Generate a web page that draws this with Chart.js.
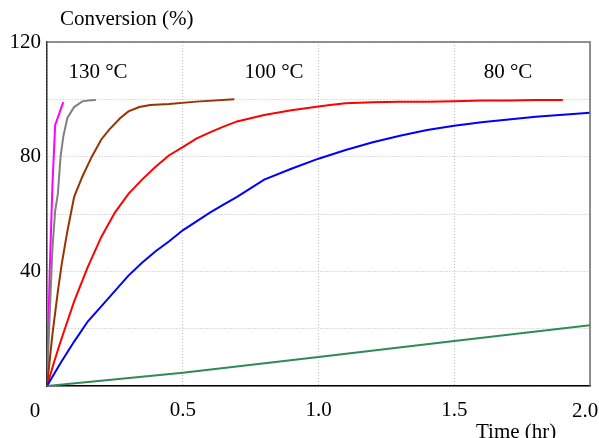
<!DOCTYPE html>
<html>
<head>
<meta charset="utf-8">
<script src="https://cdn.jsdelivr.net/npm/chart.js@4/dist/chart.umd.min.js"></script>
<style>
  html, body { margin: 0; padding: 0; background: #fff; }
  #wrap { position: relative; width: 599px; height: 438px; }
</style>
</head>
<body>
<div id="wrap"><canvas id="chart"></canvas></div>
<script>
// Conversion vs time.

const magentaTime = [0, 0.01, 0.02, 0.03, 0.045, 0.06];
const magentaConv = [0, 40, 70, 91, 95, 99];

const grayTime = [0, 0.01, 0.02, 0.03, 0.04, 0.05, 0.06, 0.075, 0.1, 0.13, 0.16, 0.18];
const grayConv = [0, 25, 48, 61, 67, 80, 87, 93.5, 97.3, 99.3, 99.7, 99.8];

const brownTime = [0, 0.02, 0.04, 0.055, 0.075, 0.1, 0.13, 0.165, 0.2, 0.23, 0.27, 0.3, 0.34, 0.38, 0.45, 0.55, 0.69];
const brownConv = [0, 18, 33, 43, 54, 66, 73, 80, 86, 89.5, 93.5, 95.8, 97.3, 98, 98.4, 99.2, 100];

const redTime = [0, 0.025, 0.05, 0.1, 0.15, 0.2, 0.25, 0.3, 0.35, 0.4, 0.45, 0.5, 0.55, 0.6, 0.65, 0.7, 0.8, 0.9, 1.0, 1.05, 1.1, 1.2, 1.3, 1.4, 1.5, 1.6, 1.7, 1.8, 1.9];
const redConv = [0, 8, 15.5, 29.5, 41.5, 52, 60.5, 67, 72, 76.5, 80.5, 83.3, 86.3, 88.5, 90.5, 92.3, 94.5, 96.2, 97.5, 98.1, 98.6, 99, 99.2, 99.2, 99.3, 99.6, 99.6, 99.8, 99.8];

const blueTime = [0, 0.05, 0.1, 0.15, 0.23, 0.3, 0.35, 0.4, 0.45, 0.5, 0.6, 0.65, 0.7, 0.8, 0.9, 1.0, 1.1, 1.2, 1.3, 1.4, 1.5, 1.6, 1.7, 1.8, 1.9, 2.0];
const blueConv = [0, 8, 15.5, 22.5, 31, 38.5, 43, 47, 50.5, 54.3, 60.5, 63.3, 66, 72, 75.8, 79.3, 82.3, 85, 87.3, 89.3, 90.8, 92, 93, 93.9, 94.6, 95.3];

const greenTime = [0, 0.5, 1.0, 1.5, 2.0];
const greenConv = [0, 4.6, 10.1, 15.7, 21.2];

const tempLabels = ['130 \u00B0C', '100 \u00B0C', '80 \u00B0C'];
const tempLabelTime = [0.188, 0.836, 1.698];
const tempLabelConv = [109.5, 109.5, 109.5];

const xTicks = [0, 0.5, 1.0, 1.5, 2.0];
const yLabelled = [40, 80, 120];

const FONT = { family: '"Liberation Serif", "Times New Roman", serif', size: 21 };

function toPoints(xs, ys) {
  return xs.map((x, i) => ({ x, y: ys[i] }));
}

function series(xs, ys, color) {
  return {
    data: toPoints(xs, ys),
    borderColor: color,
    backgroundColor: color,
    borderWidth: 2,
    pointRadius: 0,
    tension: 0,
    showLine: true,
  };
}

// extra text and the gray top/right frame
const decorations = {
  id: 'decorations',
  afterDraw(chart) {
    const { ctx, chartArea: a, scales } = chart;
    ctx.save();
    ctx.strokeStyle = '#6e6e6e';
    ctx.lineWidth = 1.5;
    ctx.beginPath();
    ctx.moveTo(a.left, a.top);
    ctx.lineTo(a.right, a.top);
    ctx.lineTo(a.right, a.bottom);
    ctx.stroke();

    ctx.fillStyle = '#000';
    ctx.font = `${FONT.size}px ${FONT.family}`;
    ctx.textBaseline = 'alphabetic';
    ctx.textAlign = 'left';
    ctx.fillText('Conversion (%)', a.left + 13, 25);
    ctx.fillText('Time (hr)', a.right - 114, a.bottom + 52);

    // end labels sit off their ticks in the original
    ctx.textAlign = 'center';
    ctx.fillText('0', a.left - 12, a.bottom + 31);
    ctx.fillText(xTicks[xTicks.length - 1].toFixed(1), a.right - 5, a.bottom + 31);

    ctx.textBaseline = 'middle';
    tempLabels.forEach((txt, i) => {
      ctx.fillText(txt, scales.x.getPixelForValue(tempLabelTime[i]), scales.y.getPixelForValue(tempLabelConv[i]));
    });
    ctx.restore();
  }
};

new Chart(document.getElementById('chart'), {
  type: 'scatter',
  data: {
    datasets: [
      series(greenTime, greenConv, '#2e8b57'),
      series(blueTime, blueConv, '#0000ff'),
      series(redTime, redConv, '#ff0000'),
      series(brownTime, brownConv, '#993300'),
      series(grayTime, grayConv, '#808080'),
      series(magentaTime, magentaConv, '#ff00ff'),
    ]
  },
  options: {
    responsive: true,
    maintainAspectRatio: false,
    animation: false,
    layout: { padding: { left: 0, top: 42, right: 9, bottom: 0 } },
    plugins: {
      legend: { display: false },
      tooltip: { enabled: false },
    },
    scales: {
      x: {
        type: 'linear',
        min: 0,
        max: 2.0,
        afterFit: s => {
          s.height = 52;
          s.paddingLeft = 0;
          s.paddingRight = 0;
        },
        afterBuildTicks: s => { s.ticks = xTicks.map(v => ({ value: v })); },
        ticks: {
          font: FONT,
          color: '#000',
          padding: 12,
          maxRotation: 0,
          callback: v => (v === 0 || v === 2 ? '' : v.toFixed(1)),
        },
        grid: {
          drawTicks: false,
          color: '#bdbdbd',
          lineWidth: 1,
        },
        border: { color: '#000', width: 1.5, dash: [1, 2] },
      },
      y: {
        min: 0,
        max: 120,
        afterFit: s => {
          s.width = 47;
          s.paddingTop = 0;
          s.paddingBottom = 0;
        },
        ticks: {
          stepSize: 20,
          font: FONT,
          color: '#000',
          padding: 6,
          callback: v => (yLabelled.includes(v) ? String(v) : ''),
        },
        grid: {
          drawTicks: false,
          color: '#bdbdbd',
          lineWidth: 1,
        },
        border: { color: '#333', width: 1.5, dash: [1, 2] },
      },
    },
  },
  plugins: [decorations],
});
</script>
</body>
</html>
